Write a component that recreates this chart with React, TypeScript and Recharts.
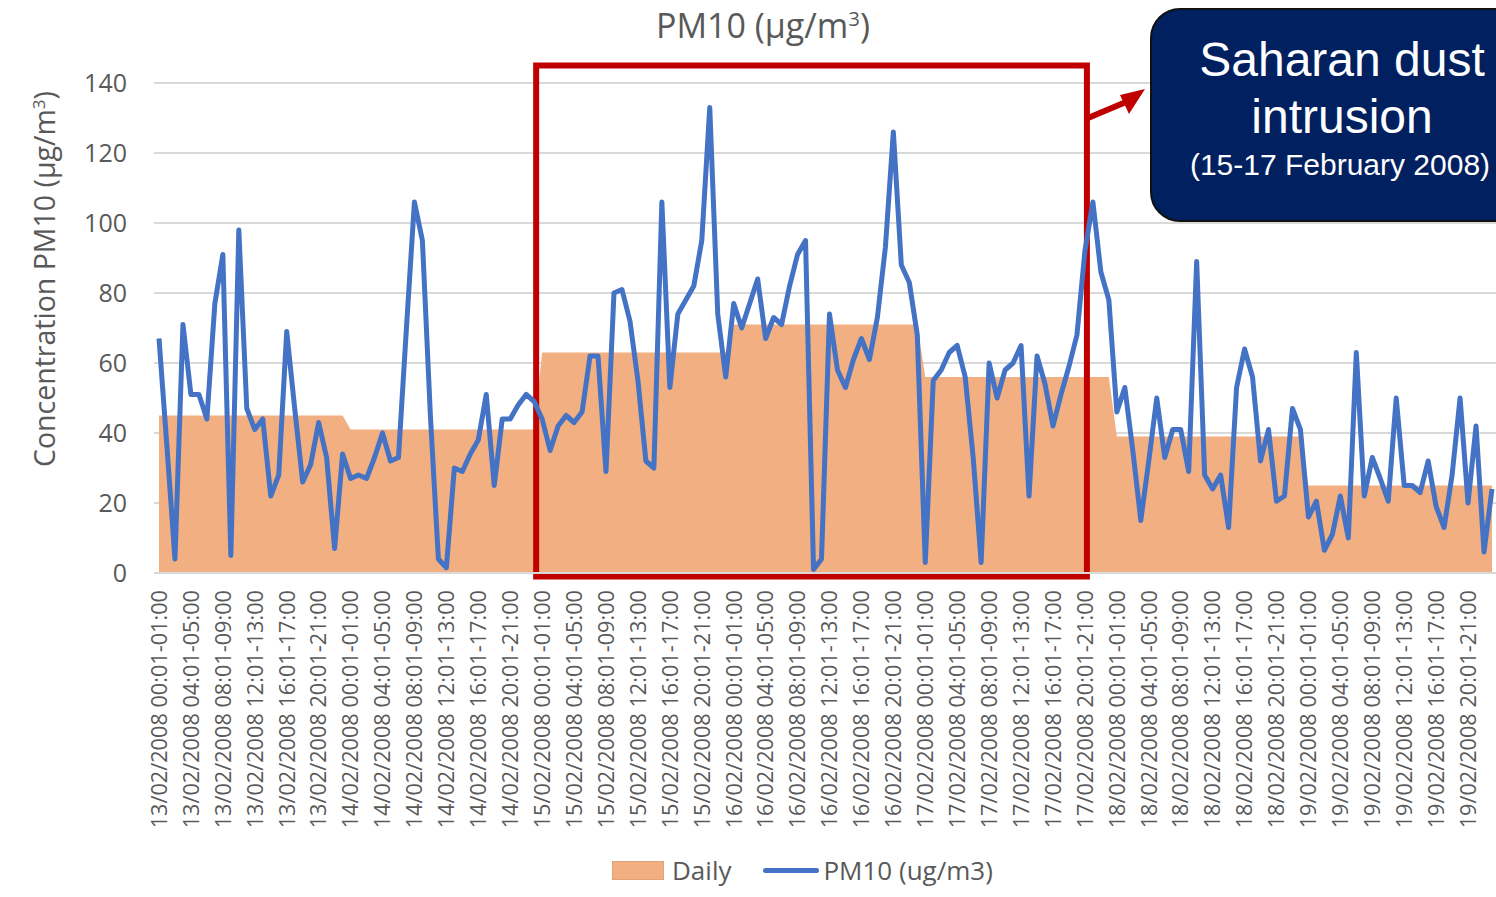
import {
    Area,
    CartesianGrid,
    ComposedChart,
    Legend,
    Line,
    ReferenceArea,
    XAxis,
    YAxis,
} from 'recharts';

const days = [
    '13/02/2008',
    '14/02/2008',
    '15/02/2008',
    '16/02/2008',
    '17/02/2008',
    '18/02/2008',
    '19/02/2008',
];

const hourSlots = [
    '00:01-01:00', '01:01-02:00', '02:01-03:00', '03:01-04:00',
    '04:01-05:00', '05:01-06:00', '06:01-07:00', '07:01-08:00',
    '08:01-09:00', '09:01-10:00', '10:01-11:00', '11:01-12:00',
    '12:01-13:00', '13:01-14:00', '14:01-15:00', '15:01-16:00',
    '16:01-17:00', '17:01-18:00', '18:01-19:00', '19:01-20:00',
    '20:01-21:00', '21:01-22:00', '22:01-23:00', '23:01-24:00',
];

// daily mean PM10, one per day
const dailyMean = [45, 41, 63, 71, 56, 39, 25];

// hourly PM10 (ug/m3), one list per day
const pm10Day13 = [67, 36, 4, 71, 51, 51, 44, 77, 91, 5, 98, 47, 41, 44, 22, 28, 69, 47, 26, 31, 43, 33, 7, 34];
const pm10Day14 = [27, 28, 27, 33, 40, 32, 33, 70, 106, 95, 45, 4, 1.5, 30, 29, 34, 38, 51, 25, 44, 44, 48, 51, 49];
const pm10Day15 = [44, 35, 42, 45, 43, 46, 62, 62, 29, 80, 81, 72, 55, 32, 30, 106, 53, 74, 78, 82, 95, 133, 74, 56];
const pm10Day16 = [77, 70, 77, 84, 67, 73, 71, 82, 91, 95, 1, 4, 74, 58, 53, 61, 67, 61, 73, 93, 126, 88, 83, 68];
const pm10Day17 = [3, 55, 58, 63, 65, 56, 33, 3, 60, 50, 58, 60, 65, 22, 62, 54, 42, 51, 59, 68, 92, 106, 86, 78];
const pm10Day18 = [46, 53, 35, 15, 32, 50, 33, 41, 41, 29, 89, 28, 24, 28, 13, 53, 64, 56, 32, 41, 20.5, 22, 47, 41];
const pm10Day19 = [16, 20.5, 6.5, 11, 22, 10, 63, 22, 33, 27, 20.5, 50, 25, 25, 23, 32, 19, 13, 28, 50, 20, 42, 6, 24];

const pm10ByDay = [pm10Day13, pm10Day14, pm10Day15, pm10Day16, pm10Day17, pm10Day18, pm10Day19];

const yTicks = [0, 20, 40, 60, 80, 100, 120, 140];

const data = days.flatMap((day, di) =>
    hourSlots.map((slot, h) => ({
        time: `${day} ${slot}`,
        daily: dailyMean[di],
        pm10: pm10ByDay[di][h],
    })),
);

const GREY = '#595959';
const FONT = '"Open Sans", sans-serif';

function TimeTick({ x, y, payload }: any) {
    return (
        <text
            x={x}
            y={y}
            transform={`rotate(-90 ${x} ${y})`}
            textAnchor="end"
            dy="0.36em"
            fontSize={21.7}
            fill={GREY}
            fontFamily={FONT}
        >
            {payload.value}
        </text>
    );
}

function ChartLegend() {
    return (
        <div
            style={{
                height: 50,
                display: 'flex',
                alignItems: 'center',
                paddingLeft: 612,
                paddingBottom: 4,
                boxSizing: 'border-box',
                fontFamily: FONT,
                fontSize: 26,
                color: GREY,
            }}
        >
            <span
                style={{
                    width: 50,
                    height: 17,
                    background: '#F1AF82',
                    border: '1px solid #e3a277',
                    marginRight: 8,
                }}
            />
            <span>Daily</span>
            <span
                style={{
                    width: 56,
                    height: 5,
                    borderRadius: 3,
                    background: '#4472C4',
                    marginLeft: 32,
                    marginRight: 4,
                }}
            />
            <span>PM10 (ug/m3)</span>
        </div>
    );
}

export default function App() {
    return (
        <div
            style={{
                position: 'absolute',
                left: 0,
                top: 0,
                width: 1496,
                height: 897,
                overflow: 'hidden',
                background: '#fff',
                fontFamily: FONT,
            }}
        >
            <ComposedChart
                width={1496}
                height={897}
                data={data}
                margin={{ top: 83, right: 0, bottom: 0, left: 0 }}
            >
                <CartesianGrid vertical={false} stroke="#d9d9d9" strokeWidth={2} />
                <XAxis
                    dataKey="time"
                    interval={3}
                    height={274}
                    padding={{ left: 5, right: 4 }}
                    axisLine={{ stroke: '#d9d9d9', strokeWidth: 2 }}
                    tickLine={false}
                    tickSize={0}
                    tickMargin={17}
                    tick={<TimeTick />}
                />
                <YAxis
                    domain={[0, 140]}
                    ticks={yTicks}
                    width={154}
                    axisLine={false}
                    tickLine={false}
                    tickSize={0}
                    tickMargin={27}
                    tick={{ fontSize: 25, fill: GREY, fontFamily: FONT }}
                />
                <Legend verticalAlign="bottom" content={<ChartLegend />} />
                <Area
                    type="linear"
                    dataKey="daily"
                    name="Daily"
                    fill="#F1AF82"
                    fillOpacity={1}
                    stroke="none"
                    isAnimationActive={false}
                />
                <Line
                    type="linear"
                    dataKey="pm10"
                    name="PM10 (ug/m3)"
                    stroke="#4472C4"
                    strokeWidth={5}
                    strokeLinejoin="round"
                    dot={false}
                    isAnimationActive={false}
                />
                <ReferenceArea
                    x1={data[47].time}
                    x2={data[116].time}
                    y1={-1}
                    y2={145}
                    ifOverflow="visible"
                    fill="none"
                    fillOpacity={0}
                    stroke="#C00000"
                    strokeWidth={6}
                    transform="translate(2 0)"
                />
            </ComposedChart>

            <div
                style={{
                    position: 'absolute',
                    left: 763,
                    top: 8,
                    transform: 'translateX(-50%)',
                    fontSize: 34,
                    lineHeight: 1,
                    color: GREY,
                    whiteSpace: 'nowrap',
                }}
            >
                PM10 (µg/m<sup style={{ fontSize: '0.6em' }}>3</sup>)
            </div>

            <div
                style={{
                    position: 'absolute',
                    left: 44,
                    top: 279,
                    transform: 'translate(-50%, -50%) rotate(-90deg)',
                    fontSize: 28.5,
                    lineHeight: 1,
                    color: GREY,
                    whiteSpace: 'nowrap',
                }}
            >
                Concentration PM10 (µg/m<sup style={{ fontSize: '0.6em' }}>3</sup>)
            </div>

            <svg
                width={1496}
                height={897}
                style={{ position: 'absolute', left: 0, top: 0, pointerEvents: 'none' }}
            >
                <line x1={1088} y1={118} x2={1126} y2={102} stroke="#C00000" strokeWidth={6} />
                <polygon points="1145,89 1120,95 1129,114" fill="#C00000" />
            </svg>

            <div
                style={{
                    position: 'absolute',
                    left: 1150,
                    top: 8,
                    width: 384,
                    height: 214,
                    borderRadius: 30,
                    background: '#002060',
                    border: '2px solid #111',
                    boxSizing: 'border-box',
                    color: '#fff',
                    fontFamily: '"Liberation Sans", Arial, sans-serif',
                }}
            >
                {[
                    { text: 'Saharan dust', top: 26, size: 48, cx: 190 },
                    { text: 'intrusion', top: 83, size: 48, cx: 190 },
                    { text: '(15-17 February 2008)', top: 140, size: 30, cx: 188 },
                ].map((l) => (
                    <div
                        key={l.text}
                        style={{
                            position: 'absolute',
                            left: l.cx,
                            top: l.top,
                            transform: 'translateX(-50%)',
                            fontSize: l.size,
                            lineHeight: 1,
                            whiteSpace: 'nowrap',
                        }}
                    >
                        {l.text}
                    </div>
                ))}
            </div>
        </div>
    );
}
